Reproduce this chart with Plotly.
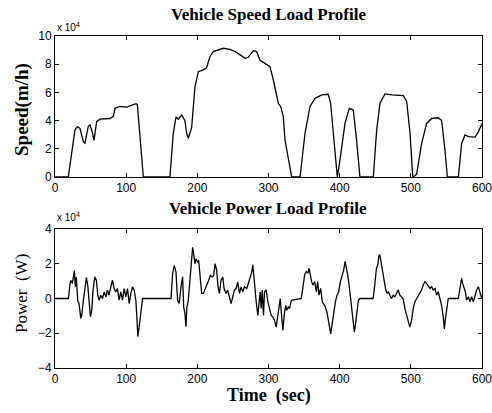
import plotly.graph_objects as go

# Speed profile (units of 1e4)
speed_t = [0, 18.7, 23.4, 28, 31.4, 35.1, 39.8, 42.1, 46.8, 49.2, 52.9, 54.8, 58.5, 63.2, 77.3, 82, 84.3,
           91.4, 100.7, 105.4, 110, 113.8, 115.7, 119.4, 124.1, 161.5, 166.2, 170, 173.2, 178, 182.6, 185,
           187.3, 192, 196.7, 201.4, 208.4, 213, 217.7, 222.4, 229.4, 236.4, 245.8, 252.8, 259.8, 267,
           271.7, 278.6, 283.3, 288, 295, 302.1, 306.8, 313.8, 317.1, 320.8, 323.2, 327.9, 332.6, 344.3,
           351.3, 358.3, 365.3, 374.7, 384, 387.3, 391, 395.8, 396.7, 400.4, 407.5, 413.5, 419.1, 423.8,
           428.5, 447.3, 452, 456.7, 463.7, 473.1, 489.5, 494.2, 498.9, 502.6, 503.5, 508.2, 515.2, 522.2,
           529.3, 538.6, 543.3, 548, 551.3, 566.8, 571.4, 576.1, 580.8, 590.2, 594.9, 600]
speed_v = [0, 0, 1.68, 3.33, 3.57, 3.45, 2.5, 2.4, 3.6, 3.7, 3.1, 2.6, 3.92, 4.1, 4.15, 4.3, 4.87,
           5.0, 4.95, 5.05, 5.1, 5.2, 5.15, 2.6, 0, 0, 3.1, 4.25, 4.1, 4.4, 4.0, 3.1,
           2.75, 3.5, 6.4, 7.47, 7.6, 7.75, 8.53, 8.9, 9.0, 9.13, 9.05, 8.9, 8.68, 8.42,
           8.5, 8.96, 8.9, 8.3, 8.06, 7.82, 6.88, 5.23, 5.0, 4.28, 2.62, 1.2, 0, 0,
           3.1, 5.0, 5.58, 5.82, 5.87, 5.23, 3.1, 0.3, 0, 1.2, 3.8, 4.87, 4.75, 2.6,
           0, 0, 3.33, 5.23, 5.89, 5.82, 5.77, 5.34, 3.1, 0.1, 0, 0.2, 2.38, 3.8,
           4.15, 4.2, 4.0, 1.9, 0, 0, 2.38, 2.98, 2.86, 2.83, 3.2, 3.8]

# Power profile (units of 1e4)
power_t = [0, 18.8, 20.7, 22, 24.4, 25.8, 27.2, 28.6, 30, 31.9, 33.8, 36.2, 37.6, 39.9, 42.3, 44.1, 46,
           47.9, 49.8, 51.6, 53.5, 55.9, 58.2, 60.1, 62, 64.3, 66.7, 69, 71.4, 73.7, 76, 78.4, 80.8, 83.1,
           85.4, 87.8, 90.1, 92.5, 94.8, 97.2, 99.5, 101.9, 104.2, 106.6, 108.9, 111.3, 113.6, 115, 116.4,
           118.3, 120.7, 123, 163, 165.3, 167.6, 170, 172.3, 174.6, 177, 179.3, 180.8, 182.6, 184, 185.4,
           187.3, 188.7, 190.1, 192, 193.4, 194.8, 196.7, 198.1, 200.5, 201.9, 204.2, 206.1, 208.5, 210.8,
           213.1, 216, 218.3, 220.7, 223, 224.9, 227.2, 229.1, 231, 233.3, 235.7, 237.6, 240.4, 242.7,
           245.1, 247.4, 249.8, 252.1, 254.5, 256.8, 259.2, 261.5, 263.8, 266.2, 269.5, 273.3, 276.6,
           278, 280.3, 282.7, 285, 286.4, 288.3, 289.7, 291.1, 293, 294.4, 296.8, 299.1, 301.5, 303.8,
           306.1, 308.5, 310.8, 312.3, 314.6, 316.5, 318.4, 320.2, 322.1, 324, 325.9, 327.7, 329.6, 332,
           346.1, 348.4, 350.8, 353.1, 355.5, 356.9, 358.7, 360.6, 362.5, 364.8, 367.2, 369.1, 370.9,
           373.3, 375.6, 378.9, 382.2, 385, 387.4, 389.2, 391.6, 394, 396.3, 398.6, 401, 403.8, 405.7,
           407.6, 409.4, 411.3, 413.2, 415.1, 417, 418.8, 420.7, 422.6, 424.5, 426.3, 428.2, 447, 449.3,
           451.7, 453.6, 455, 456.4, 457.8, 459.7, 461.1, 463, 464.8, 466.7, 468.6, 470.5, 472.8, 475.2,
           477.5, 479.9, 482.2, 484.6, 486.9, 489.2, 491.6, 493.9, 496.3, 498.6, 501, 503.3, 505.7, 508,
           510.4, 512.7, 515.1, 517.4, 519.8, 522.1, 524.5, 526.8, 529.2, 531.5, 533.9, 536.2, 538.5,
           540.9, 543.2, 545.6, 547, 548.9, 550.3, 552.6, 566.7, 569.1, 571.4, 572.8, 574.7, 576.6, 578.4,
           580.8, 583.1, 585.5, 587.8, 590.2, 592.5, 594.9, 597.2, 599.6]
power_v = [0, 0, 0.67, 1.05, 0.86, 1.33, 1.62, 0.67, 1.24, -0.1, -0.29, -1.14, -0.95, -0.1, 0.86, 1.2, 0.76,
           -0.48, -1.05, -0.67, 0.48, 1.24, 1.05, 0.19, -0.1, 0.19, 0, 0.38, 0.1, 0.48, 0.19, 0.67, 1.05, 0.57,
           0.38, 0.57, -0.1, 0.38, -0.1, 0.57, 0.1, 0.57, -0.29, 0.29, 0.67, 0.48, -0.1, -1.05, -2.19,
           -1.62, -0.86, 0, 0, 1.43, 1.9, 1.52, -0.1, -0.29, 0.67, 1.24, -0.48, -0.86, -1.62, -0.48,
           -0.1, 0.67, 1.43, 2.38, 2.95, 2.57, 2.0, 2.29, 2.1, 2.19, 1.24, 0.29, 0.29, 0.57,
           0.76, 1.05, 1.33, 1.24, 1.33, 2.0, 1.62, 0.67, 0.29, 1.05, 1.24, 0.57, 0.29, 0.48,
           0.1, -0.29, 0.1, 0.48, 0.57, 0.95, 0.29, 0.67, 0.38, 0.67, 0.58, 1.17, 1.55,
           1.94, 0.78, -0.19, -0.97, -0.39, 0.39, -0.58, 0.49, -0.97, 0.39, 0.49, -0.19, -0.58, -0.97,
           -1.07, -1.26, -1.65, -1.26, -0.58, 0, -0.97, -1.84, -0.97, -0.39, -0.68, -0.49, -0.58, -0.1,
           0, 0.58, 1.36, 1.55, 1.46, 1.75, 1.26, 0.97, 0.78, 0.97, 0.39, 0.97, 0.19,
           0.58, -0.19, -0.39, -0.78, -1.36, -2.04, -1.55, -0.78, -0.19, 0.19, 0.39, 0.97, 1.36, 1.65,
           2.14, 1.84, 1.36, 0.78, 0, -0.58, -1.36, -1.94, -1.36, -0.58, -0.1, 0, 0, 0.78,
           1.75, 1.94, 2.43, 2.52, 2.14, 1.75, 1.36, 0.97, 0.49, 0.29, 0.39, 0.19, 0, 0.19,
           0.1, 0.29, 0.49, 0.19, 0.1, 0, -0.58, -0.97, -1.36, -1.65, -1.26, -0.58, -0.19, 0,
           0.1, 0.29, 0.49, 0.78, 0.97, 0.87, 0.68, 0.58, 0.68, 0.49, 0.58, 0.19, 0.39,
           0, -0.39, -1.07, -1.75, -1.07, -0.58, 0, 0, 0.49, 1.17, 0.87, 0.58, 0.39, -0.1,
           0.1, -0.19, 0.1, -0.19, 0.19, 0.49, 0.68, 0.39, 0]

x_ticks = [0, 100, 200, 300, 400, 500, 600]
speed_ticks = [0, 2, 4, 6, 8, 10]
power_ticks = [-4, -2, 0, 2, 4]

fig = go.Figure()
fig.add_trace(go.Scatter(x=speed_t, y=speed_v, mode="lines", line=dict(color="black", width=1.3),
                         xaxis="x", yaxis="y", showlegend=False, cliponaxis=True))
fig.add_trace(go.Scatter(x=power_t, y=power_v, mode="lines", line=dict(color="black", width=1.3),
                         xaxis="x2", yaxis="y2", showlegend=False, cliponaxis=True))

W, H = 492, 413
L, R = 55, 10
PW = W - L - R
xd = [0, 1]
ax_common = dict(showgrid=False, zeroline=False, showline=True, linecolor="black", linewidth=1,
                 mirror="allticks", ticks="inside", ticklen=4, tickcolor="black", automargin=False,
                 ticklabeloverflow="allow",
                 tickfont=dict(family="Liberation Sans, Arial", size=12, color="black"))
fig.update_layout(
    width=W, height=H, margin=dict(l=L, r=R, t=0, b=0, autoexpand=False),
    paper_bgcolor="white", plot_bgcolor="white",
    xaxis=dict(domain=xd, range=[0, 600], tickvals=x_ticks, anchor="y", **ax_common),
    yaxis=dict(domain=[1 - 177 / H, 1 - 36 / H], range=[0, 10], tickvals=speed_ticks, anchor="x", **ax_common),
    xaxis2=dict(domain=xd, range=[0, 600], tickvals=x_ticks, anchor="y2", **ax_common),
    yaxis2=dict(domain=[1 - 368 / H, 1 - 229 / H], range=[-4, 4], tickvals=power_ticks, anchor="x2", **ax_common),
)


def px(x):
    return (x - L) / PW


serif = "Liberation Serif, Times New Roman, serif"
ann = [
    dict(text="<b>Vehicle Speed Load Profile</b>", x=268, y=14, size=17),
    dict(text="<b>Vehicle Power Load Profile</b>", x=268, y=209, size=17),
    dict(text="<b>Time  (sec)</b>", x=269, y=395, size=18),
]
for a in ann:
    fig.add_annotation(text=a["text"], x=px(a["x"]), y=1 - a["y"] / H, xref="paper", yref="paper",
                       showarrow=False, xanchor="center", yanchor="middle",
                       font=dict(family=serif, size=a["size"], color="black"))
fig.add_annotation(text="<b>Speed(m/h)</b>", x=px(22), y=1 - 110 / H, xref="paper", yref="paper",
                   showarrow=False, textangle=-90, xanchor="center", yanchor="middle",
                   font=dict(family=serif, size=19, color="black"))
fig.add_annotation(text="Power  (W)", x=px(21), y=1 - 294 / H, xref="paper", yref="paper",
                   showarrow=False, textangle=-90, xanchor="center", yanchor="middle",
                   font=dict(family=serif, size=17, color="black"))
for yy in [27, 217]:
    fig.add_annotation(text="x 10<sup>4</sup>", x=px(55), y=1 - yy / H, xref="paper", yref="paper",
                       showarrow=False, xanchor="left", yanchor="middle",
                       font=dict(family="Liberation Sans, Arial", size=10, color="black"))

fig.write_html("out.html", config={"displayModeBar": False},
               post_script=("document.body.style.margin='0';"
                            "document.body.style.overflow='hidden';"
                            "document.documentElement.style.overflow='hidden';"))
